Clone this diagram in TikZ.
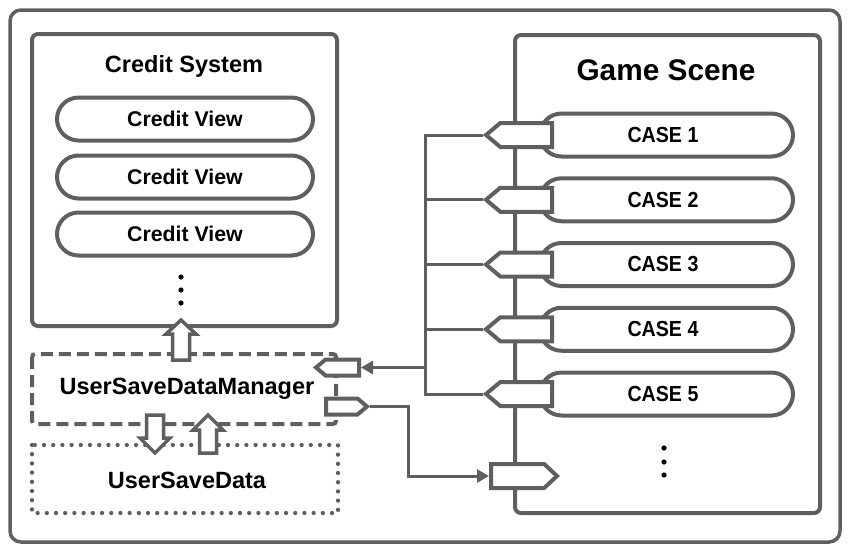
\documentclass[tikz,border=0pt]{standalone}
\usepackage{fontspec}
\setmainfont{Liberation Sans}
\newfontfamily\narrowsans[FakeStretch=0.9]{Liberation Sans}
\usetikzlibrary{shapes.misc,shapes.symbols,arrows.meta,calc}
\definecolor{lg}{RGB}{95,95,95}
\begin{document}
\begin{tikzpicture}[x=1pt,y=-1pt,
  frame/.style={draw=lg,line width=3.5pt,rounded corners=11pt},
  panel/.style={draw=lg,line width=4pt,rounded corners=6pt},
  pill/.style={rounded rectangle,draw=lg,line width=4pt,fill=white,minimum height=43pt,inner sep=0pt},
  cvtext/.style={font=\bfseries\fontsize{21.3}{22}\selectfont},
  casetext/.style={font=\narrowsans\bfseries\fontsize{21.8}{22}\selectfont},
  title/.style={font=\bfseries\fontsize{23.5}{24}\selectfont},
  bigtitle/.style={font=\bfseries\fontsize{29.8}{30}\selectfont},
  port/.style={signal,draw=lg,fill=white,line width=4pt,inner sep=0pt,signal pointer angle=80},
  bus/.style={draw=lg,line width=3pt},
  tip/.style={-{Triangle[length=12pt,width=13pt]}},
  blockarrow/.style={draw=lg,fill=white,line width=3.5pt,line join=miter},
  dot/.style={fill=black}
]
\useasboundingbox (0,0) rectangle (848,550);
% outer frame
\draw[frame] (10,10) rectangle (840,542);

% Credit System
\draw[panel] (32,34) rectangle (337,326);
\node[title] (cstitle) at (184,66) {Credit System};
\foreach \i/\y in {1/119,2/177,3/234}{
  \node[pill,minimum width=256pt] (cv\i) at (185,\y) {};
  \node[cvtext] (cvt\i) at (185,\y) {Credit View};
}
\fill[dot] (181,277) circle (2.6pt);
\fill[dot] (181,290) circle (2.6pt);
\fill[dot] (181,303) circle (2.6pt);

% Game Scene
\draw[panel] (515,35) rectangle (820,513);
\node[bigtitle] (gstitle) at (666,70) {Game Scene};
\foreach \i/\y in {1/135,2/199.75,3/264.5,4/329.25,5/394}{
  \node[pill,minimum width=253pt] (case\i) at (666.5,\y) {};
  \node[casetext] (caset\i) at (663,\y) {CASE \i};
}
\fill[dot] (664,448) circle (2.6pt);
\fill[dot] (664,462) circle (2.6pt);
\fill[dot] (664,475) circle (2.6pt);

% ports of the cases
\foreach \i/\y in {1/135,2/199.75,3/264.5,4/329.25,5/394}{
  \node[port,signal to=west,minimum width=66pt,minimum height=24pt,anchor=east] (p\i) at (554,\y) {};
}

% manager and data boxes
\draw[draw=lg,line width=4pt,dash pattern=on 12pt off 6pt,rounded corners=3pt] (32,354) rectangle (336,424);
\node[title] (mgr) at (187,389) {UserSaveDataManager};
\draw[draw=lg,line width=4.3pt,line cap=round,dash pattern=on 0pt off 9.2pt] (32,445) rectangle (338,513);
\node[title] (usd) at (187,480) {UserSaveData};

% manager ports
\node[port,signal to=west,minimum width=43pt,minimum height=16pt,anchor=east] (min) at (361,367.5) {};
\node[port,signal to=east,minimum width=41pt,minimum height=16pt,anchor=west] (mout) at (324,406.5) {};
% big port at game scene
\node[port,signal to=east,minimum width=66pt,minimum height=24pt,anchor=west,signal pointer angle=86] (bp) at (489,476) {};

% bus
\coordinate (bus) at (425,0);
\coordinate (turn) at (408,440);
\draw[bus] (p1.west) -- (p1.west -| bus) -- (p5.west -| bus) -- (p5.west);
\draw[bus] (p2.west) -- (p2.west -| bus);
\draw[bus] (p3.west) -- (p3.west -| bus);
\draw[bus] (p4.west) -- (p4.west -| bus);
\draw[bus,tip] (min.east -| bus) -- (min.east);
\draw[bus,tip] (mout.east) -| (turn) |- (bp.west);

% block arrows
% manager -> credit system (up)
\draw[blockarrow] (172.5,360) -- (172.5,334) -- (166,334) -- (181,320) -- (196,334) -- (189.5,334) -- (189.5,360) -- cycle;
% manager -> data (down)
\draw[blockarrow] (146.5,415) -- (146.5,438) -- (140,438) -- (155,453) -- (170,438) -- (163.5,438) -- (163.5,415) -- cycle;
% data -> manager (up)
\draw[blockarrow] (199.5,453) -- (199.5,430) -- (193,430) -- (208,415) -- (223,430) -- (216.5,430) -- (216.5,453) -- cycle;
\end{tikzpicture}
\end{document}
